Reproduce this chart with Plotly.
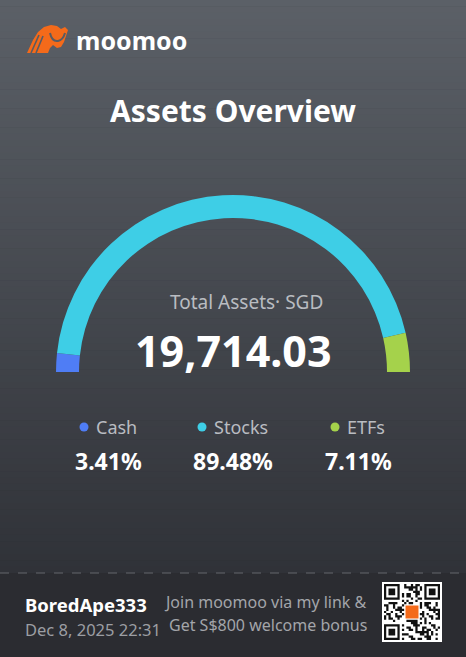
"""
Assets overview card: semicircle gauge of the portfolio split (moomoo share card).
"""
import plotly.graph_objects as go

W, H = 466, 657

# data
categories = ["Cash", "Stocks", "ETFs"]
shares_pct = [3.41, 89.48, 7.11]
total_assets = "19,714.03"
currency = "SGD"
user_name = "BoredApe333"
stamp = "Dec 8, 2025 22:31"
promo_lines = ["Join moomoo via my link &", "Get S$800 welcome bonus"]

COLORS = ["#4f7df5", "#3ecee6", "#a5d24b"]
TXT_MUTED = "#b9bcc1"
FONT = "Noto Sans"

# gauge geometry (px)
CX, CY = 233, 372
R_OUT, R_IN = 177, 154


def px(x):
    return x / W


def py(y):
    return 1 - y / H


def mix(c1, c2, t):
    a = [int(c1[i:i + 2], 16) for i in (1, 3, 5)]
    b = [int(c2[i:i + 2], 16) for i in (1, 3, 5)]
    return "rgb(%d,%d,%d)" % tuple(round(a[k] + (b[k] - a[k]) * t) for k in range(3))


def rect_path(x0, y0, x1, y1):
    return f"M{px(x0)},{py(y0)} L{px(x1)},{py(y0)} L{px(x1)},{py(y1)} L{px(x0)},{py(y1)} Z "


def poly_path(pts):
    s = "M" + " L".join(f"{px(x)},{py(y)}" for x, y in pts)
    return s + " Z"


shapes = []

# background gradient (card body) + flat footer
n_bands = 90
top_c, bot_c = "#5b6067", "#303238"
band_h = 573 / n_bands
for i in range(n_bands):
    y0 = i * band_h
    shapes.append(dict(
        type="rect", xref="paper", yref="paper", layer="below",
        x0=0, x1=1, y0=py(y0 + band_h + 0.5), y1=py(y0),
        fillcolor=mix(top_c, bot_c, i / (n_bands - 1)), line_width=0,
    ))
shapes.append(dict(
    type="rect", xref="paper", yref="paper", layer="below",
    x0=0, x1=1, y0=0, y1=py(573), fillcolor="#2b2c31", line_width=0,
))
shapes.append(dict(
    type="line", xref="paper", yref="paper",
    x0=0, x1=1, y0=py(573), y1=py(573),
    line=dict(color="#65676c", width=1, dash="dash"),
))

# logo: bull icon
shapes.append(dict(
    type="path", xref="paper", yref="paper", fillcolor="#f46a1a", line_width=0,
    path=poly_path([(27, 53), (33, 40), (38, 32), (44, 27), (51, 25), (57, 26),
                    (61, 29), (65, 27), (68, 30), (66, 36), (64, 42), (61, 47),
                    (57, 48), (53, 45), (50, 48), (48, 53)]),
))
for seg in ([(31, 53), (39, 35)], [(36, 53), (43, 36)]):
    shapes.append(dict(
        type="line", xref="paper", yref="paper",
        x0=px(seg[0][0]), y0=py(seg[0][1]), x1=px(seg[1][0]), y1=py(seg[1][1]),
        line=dict(color="#585c63", width=1.6),
    ))
shapes.append(dict(
    type="path", xref="paper", yref="paper", line=dict(color="#585c63", width=2),
    path=f"M{px(50)},{py(33)} Q{px(52)},{py(42)} {px(58)},{py(41)} Q{px(63)},{py(40)} {px(65)},{py(33)}",
))

# QR code block
qx0, qy0, qs = 382, 582, 60
shapes.append(dict(type="rect", xref="paper", yref="paper",
                   x0=px(qx0), x1=px(qx0 + qs), y0=py(qy0 + qs), y1=py(qy0),
                   fillcolor="white", line_width=0))
n_mod = 25
m = (qs - 4) / n_mod
ox, oy = qx0 + 2, qy0 + 2
mod_path = ""
for r in range(n_mod):
    for c in range(n_mod):
        in_finder = (r < 8 and c < 8) or (r < 8 and c >= n_mod - 8) or (r >= n_mod - 8 and c < 8)
        in_logo = 9 <= r <= 15 and 9 <= c <= 15
        if in_finder or in_logo:
            continue
        if (r * 7 + c * 11 + (r * c) % 5) % 3 == 0 or (r + c * 3) % 7 == 0:
            mod_path += rect_path(ox + c * m, oy + r * m, ox + (c + 1) * m, oy + (r + 1) * m)
for fr, fc in ((0, 0), (0, n_mod - 7), (n_mod - 7, 0)):
    x0, y0 = ox + fc * m, oy + fr * m
    mod_path += rect_path(x0, y0, x0 + 7 * m, y0 + m)
    mod_path += rect_path(x0, y0 + 6 * m, x0 + 7 * m, y0 + 7 * m)
    mod_path += rect_path(x0, y0 + m, x0 + m, y0 + 6 * m)
    mod_path += rect_path(x0 + 6 * m, y0 + m, x0 + 7 * m, y0 + 6 * m)
    mod_path += rect_path(x0 + 2 * m, y0 + 2 * m, x0 + 5 * m, y0 + 5 * m)
shapes.append(dict(type="path", xref="paper", yref="paper", path=mod_path,
                   fillcolor="#111111", line_width=0))
shapes.append(dict(type="rect", xref="paper", yref="paper",
                   x0=px(ox + 9.6 * m), x1=px(ox + 15.4 * m),
                   y0=py(oy + 15.4 * m), y1=py(oy + 9.6 * m),
                   fillcolor="#f46a1a", line_width=0))

# legend dots
dot_x = [84, 202, 335]
pct_x = [108, 233, 358]
for i, cat in enumerate(categories):
    shapes.append(dict(
        type="circle", xref="paper", yref="paper",
        x0=px(dot_x[i] - 4.5), x1=px(dot_x[i] + 4.5), y0=py(427 + 4.5), y1=py(427 - 4.5),
        fillcolor=COLORS[i], line_width=0,
    ))

fig = go.Figure()

# gauge: upper half of a donut, lower half left empty
fig.add_trace(go.Pie(
    values=shares_pct + [sum(shares_pct)],
    labels=categories + [""],
    marker=dict(colors=COLORS + ["rgba(0,0,0,0)"], line=dict(width=0)),
    hole=R_IN / R_OUT,
    sort=False,
    direction="clockwise",
    rotation=-90,
    textinfo="none",
    hoverinfo="skip",
    showlegend=False,
    domain=dict(x=[px(CX - R_OUT), px(CX + R_OUT)], y=[py(CY + R_OUT), py(CY - R_OUT)]),
))

ann = []


def txt(x, y, text, size, color="white", bold=False, xanchor="center", family=FONT):
    ann.append(dict(
        x=px(x), y=py(y), xref="paper", yref="paper", showarrow=False,
        text=f"<b>{text}</b>" if bold else text, xanchor=xanchor, yanchor="middle",
        font=dict(size=size, color=color, family=family),
    ))


txt(74, 40, "moomoo", 25, bold=True, xanchor="left")
txt(233, 110, "Assets Overview", 30, bold=True)
txt(246, 302, f"Total Assets· {currency}", 19, color=TXT_MUTED)
txt(233, 350, total_assets, 43, bold=True)
for i, cat in enumerate(categories):
    txt(dot_x[i] + 10, 427, cat, 18, color=TXT_MUTED, xanchor="left")
    txt(pct_x[i], 461, f"{shares_pct[i]:.2f}%", 23, bold=True)
txt(23, 604, user_name, 18.5, bold=True, xanchor="left")
txt(23, 629, stamp, 16.5, color="#9c9ea3", xanchor="left")
txt(369, 602, promo_lines[0], 16, color="#a3a5aa", xanchor="right")
txt(369, 625, promo_lines[1], 16, color="#a3a5aa", xanchor="right")

fig.update_layout(
    width=W,
    height=H,
    margin=dict(l=0, r=0, t=0, b=0),
    paper_bgcolor="#2b2c31",
    plot_bgcolor="rgba(0,0,0,0)",
    shapes=shapes,
    annotations=ann,
    xaxis=dict(visible=False),
    yaxis=dict(visible=False),
)

fig.write_html(
    "out.html",
    config={"displayModeBar": False},
    post_script="document.body.style.margin='0';document.body.style.overflow='hidden';",
)
